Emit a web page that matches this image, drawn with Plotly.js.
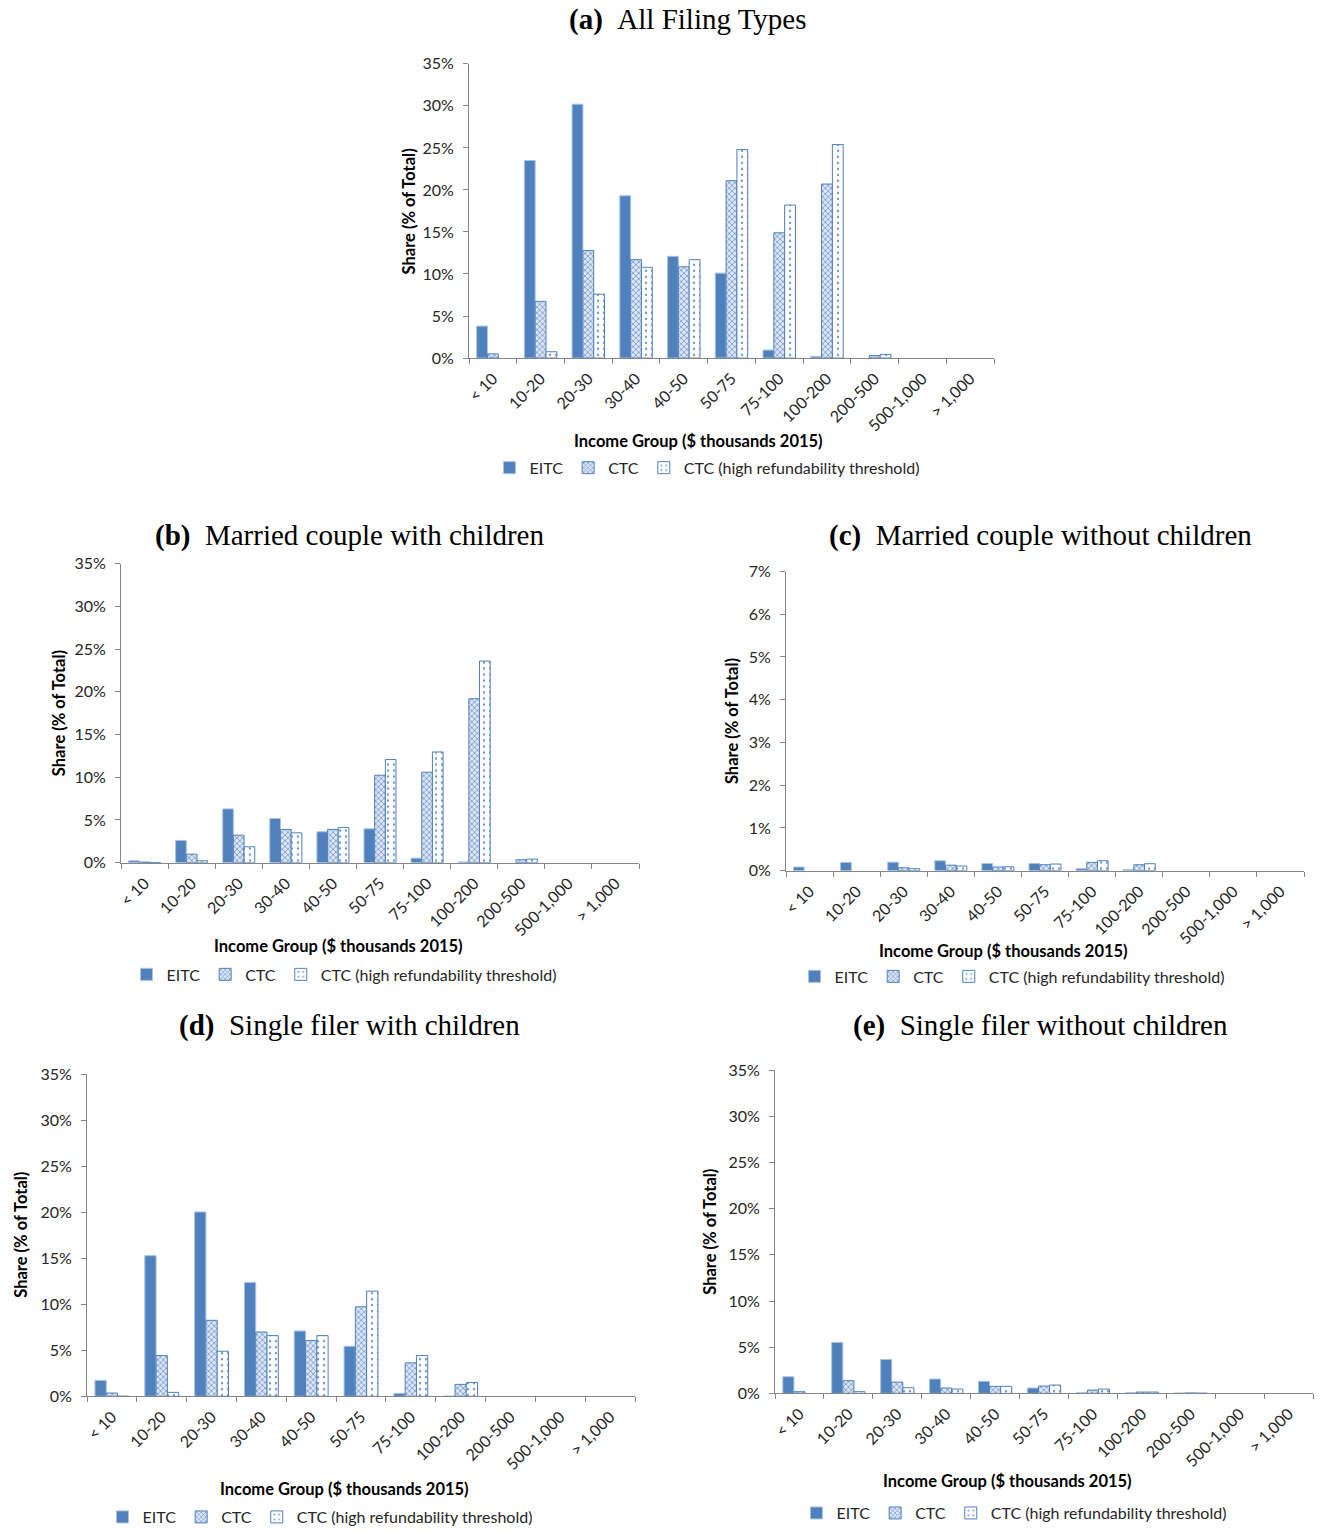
<!DOCTYPE html>
<html>
<head>
<meta charset="utf-8">
<script src="https://cdn.plot.ly/plotly-3.0.1.min.js"></script>
<style>
html, body { margin: 0; padding: 0; background: #ffffff; }
#chart { width: 1321px; height: 1534px; }
</style>
</head>
<body>
<div id="chart"></div>
<script>
// ---- Data (share of total, %) ----
const categories = ["< 10", "10-20", "20-30", "30-40", "40-50", "50-75", "75-100", "100-200", "200-500", "500-1,000", "> 1,000"];
const seriesNames = ["EITC", "CTC", "CTC (high refundability threshold)"];

// (a) All Filing Types
const allEITC = [3.8, 23.5, 30.2, 19.3, 12.1, 10.1, 0.95, 0.2, 0, 0, 0];
const allCTC = [0.5, 6.75, 12.8, 11.7, 10.85, 21.1, 14.9, 20.7, 0.3, 0, 0];
const allCTCHigh = [0, 0.75, 7.6, 10.8, 11.7, 24.8, 18.2, 25.4, 0.43, 0, 0];

// (b) Married couple with children
const mcwcEITC = [0.23, 2.6, 6.3, 5.18, 3.62, 3.97, 0.54, 0.1, 0, 0, 0];
const mcwcCTC = [0.08, 1.0, 3.23, 3.9, 3.9, 10.24, 10.59, 19.19, 0.35, 0, 0];
const mcwcCTCHigh = [0.03, 0.23, 1.87, 3.5, 4.13, 12.07, 12.96, 23.59, 0.43, 0, 0];

// (c) Married couple without children
const mcncEITC = [0.086, 0.195, 0.2, 0.234, 0.17, 0.17, 0.047, 0.023, 0, 0, 0];
const mcncCTC = [0, 0, 0.07, 0.13, 0.086, 0.14, 0.195, 0.14, 0, 0, 0];
const mcncCTCHigh = [0, 0, 0.047, 0.11, 0.093, 0.156, 0.234, 0.164, 0, 0, 0];

// (d) Single filer with children
const sfwcEITC = [1.73, 15.28, 20.04, 12.36, 7.1, 5.44, 0.32, 0.03, 0, 0, 0];
const sfwcCTC = [0.36, 4.43, 8.26, 6.99, 6.06, 9.73, 3.64, 1.3, 0, 0, 0];
const sfwcCTCHigh = [0.02, 0.43, 4.9, 6.6, 6.6, 11.43, 4.43, 1.51, 0, 0, 0];

// (e) Single filer without children
const sfncEITC = [1.8, 5.51, 3.67, 1.55, 1.3, 0.58, 0.07, 0.07, 0.04, 0, 0];
const sfncCTC = [0.18, 1.37, 1.22, 0.58, 0.76, 0.79, 0.36, 0.14, 0.04, 0, 0];
const sfncCTCHigh = [0, 0.18, 0.61, 0.47, 0.76, 0.9, 0.47, 0.14, 0.02, 0, 0];

const panelTitles = ["(a)", "(b)", "(c)", "(d)", "(e)"];
const panelSubtitles = ["All Filing Types", "Married couple with children", "Married couple without children", "Single filer with children", "Single filer without children"];
const xTitle = "Income Group ($ thousands 2015)";
const yTitle = "Share (% of Total)";

// ---- Layout geometry (pixels) ----
const W = 1321, H = 1534;
const panels = [
  {data: [allEITC, allCTC, allCTCHigh], x0: 469, x1: 994, y0: 64, y1: 359, ymax: 35, dtick: 5,
   title: [688, 20], ytitle: [409, 212], xtitle: [698, 442], legend: [707, 469]},
  {data: [mcwcEITC, mcwcCTC, mcwcCTCHigh], x0: 121, x1: 639, y0: 565, y1: 865, ymax: 35, dtick: 5,
   title: [349, 537], ytitle: [59, 715], xtitle: [338, 948], legend: [344, 977]},
  {data: [mcncEITC, mcncCTC, mcncCTCHigh], x0: 786, x1: 1304, y0: 573, y1: 873, ymax: 7, dtick: 1,
   title: [1040, 537], ytitle: [732, 723], xtitle: [1003, 953], legend: [1012, 979]},
  {data: [sfwcEITC, sfwcCTC, sfwcCTCHigh], x0: 87, x1: 635, y0: 1077, y1: 1400, ymax: 35, dtick: 5,
   title: [349, 1028], ytitle: [21, 1238], xtitle: [344, 1493], legend: [320, 1521]},
  {data: [sfncEITC, sfncCTC, sfncCTCHigh], x0: 775, x1: 1313, y0: 1073, y1: 1397, ymax: 35, dtick: 5,
   title: [1040, 1028], ytitle: [710, 1235], xtitle: [1007, 1485], legend: [1014, 1517]}
];

const px = v => v / W;
const py = v => 1 - v / H;

const blue = "#4f81bd";
const styles = [
  {color: blue, line: {color: "#a9c1e6", width: 1}},
  {color: "#c9d6ec", line: {color: blue, width: 1},
   pattern: {shape: "x", size: 4, solidity: 0.35, fgcolor: "#6e93cc", bgcolor: "#dde6f4", fillmode: "replace"}},
  {color: "#ffffff", line: {color: blue, width: 1},
   pattern: {shape: ".", size: 6, solidity: 0.12, fgcolor: "#6f96d0", bgcolor: "#ffffff", fillmode: "replace"}}
];

const tickFont = {family: "Lato, 'Open Sans', sans-serif", size: 16, color: "#262626"};
const legendFont = {family: "Lato, 'Open Sans', sans-serif", size: 16, color: "#262626"};
const boldFont = {family: "Lato, 'Open Sans', sans-serif", size: 16.5, color: "#000000", weight: "bold"};
const serifFont = {family: "'Liberation Serif', 'DejaVu Serif', serif", size: 29, color: "#000000"};

const traces = [];
const layout = {
  width: W, height: H,
  margin: {l: 0, r: 0, t: 0, b: 0},
  paper_bgcolor: "#ffffff", plot_bgcolor: "#ffffff",
  barmode: "group", bargap: 0.32, bargroupgap: 0,
  annotations: [], showlegend: true
};

panels.forEach((p, i) => {
  const n = i === 0 ? "" : String(i + 1);
  const legendId = i === 0 ? "legend" : "legend" + (i + 1);
  p.data.forEach((vals, k) => {
    const m = {color: styles[k].color, line: styles[k].line};
    if (styles[k].pattern) m.pattern = styles[k].pattern;
    traces.push({
      type: "bar", x: categories, y: vals.map(v => (v === 0 ? null : v)), name: seriesNames[k],
      xaxis: "x" + n, yaxis: "y" + n, marker: m, legend: legendId,
      hoverinfo: "skip"
    });
  });
  layout["xaxis" + n] = {
    domain: [px(p.x0), px(p.x1)], anchor: "y" + n,
    type: "category", range: [-0.5, 10.5],
    showline: true, linecolor: "#868686", linewidth: 1,
    ticks: "outside", tickson: "boundaries", ticklen: 5, tickcolor: "#868686",
    tickangle: -45, tickfont: tickFont, ticklabelstandoff: 4,
    showgrid: false, zeroline: false, fixedrange: true
  };
  layout["yaxis" + n] = {
    domain: [py(p.y1), py(p.y0)], anchor: "x" + n,
    range: [0, p.ymax], dtick: p.dtick, tick0: 0, ticksuffix: "%",
    showline: true, linecolor: "#868686", linewidth: 1,
    ticks: "outside", ticklen: 5, tickcolor: "#868686",
    tickfont: tickFont, ticklabelstandoff: 6,
    showgrid: false, zeroline: false, fixedrange: true
  };
  layout[legendId] = {
    orientation: "h", x: px(p.legend[0]), y: py(p.legend[1]),
    xanchor: "center", yanchor: "middle", xref: "paper", yref: "paper",
    font: legendFont, bgcolor: "rgba(0,0,0,0)", itemwidth: 30,
    traceorder: "normal", itemclick: false, itemdoubleclick: false
  };
  layout.annotations.push({
    text: "<b>" + panelTitles[i] + "</b>\u2002" + panelSubtitles[i],
    x: px(p.title[0]), y: py(p.title[1]), xref: "paper", yref: "paper",
    xanchor: "center", yanchor: "middle", showarrow: false, font: serifFont
  });
  layout.annotations.push({
    text: "<b>" + yTitle + "</b>", textangle: -90,
    x: px(p.ytitle[0]), y: py(p.ytitle[1]), xref: "paper", yref: "paper",
    xanchor: "center", yanchor: "middle", showarrow: false, font: boldFont
  });
  layout.annotations.push({
    text: "<b>" + xTitle + "</b>",
    x: px(p.xtitle[0]), y: py(p.xtitle[1]), xref: "paper", yref: "paper",
    xanchor: "center", yanchor: "middle", showarrow: false, font: boldFont
  });
});

Plotly.newPlot("chart", traces, layout, {staticPlot: true, displayModeBar: false});
</script>
</body>
</html>
